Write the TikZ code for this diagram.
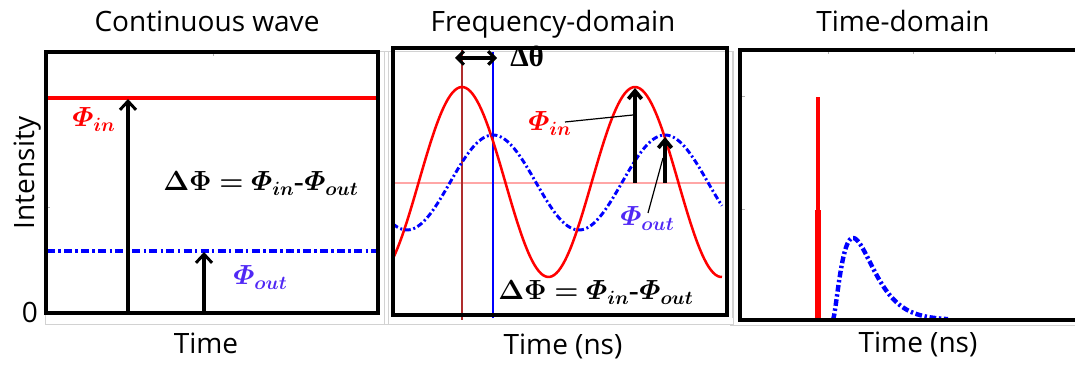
\documentclass[tikz,border=0pt]{standalone}
\usepackage{amsmath,bm}
\usepackage{fontspec}
\newfontfamily\labfont{Open Sans}
\newfontfamily\serifb{Liberation Serif}
\DeclareMathSizes{19.5}{19.5}{15.5}{12}
\usetikzlibrary{arrows.meta}
\definecolor{phiblue}{RGB}{80,40,245}
\definecolor{vred}{RGB}{175,45,45}
\begin{document}
\begin{tikzpicture}[x=0.75pt,y=-0.75pt,
  txt/.style={font=\labfont\fontsize{21}{24}\selectfont, anchor=base, inner sep=0pt},
  mlab/.style={font=\fontsize{19.5}{24}\selectfont, anchor=base west, inner sep=0pt},
  frame/.style={line width=2.6pt, line cap=rect},
  grayline/.style={draw=gray!35, line width=0.75pt},
  tick/.style={draw=gray!60, line width=0.75pt},
  dashdot1/.style={dash pattern=on 6pt off 2.5pt on 1.8pt off 2.5pt},
  arr/.style={line width=2.3pt, -{Straight Barb[length=6.5pt,width=12pt,line width=2.2pt]}},
  arrb/.style={line width=3pt, -{Straight Barb[length=6pt,width=10pt,line width=2.8pt]}},
  lead/.style={line width=0.9pt}]
\useasboundingbox (0,0) rectangle (1075,366);

% ---------------- titles and axis labels ----------------
\node[txt] (t1) at (207,32) {Continuous wave};
\node[txt] (t2) at (553,32) {Frequency-domain};
\node[txt] (t3) at (903,32) {Time-domain};
\node[txt] (x1) at (206,354) {Time};
\node[txt] (x2) at (563,355) {Time (ns)};
\node[txt] (x3) at (918,353) {Time (ns)};
\node[txt, rotate=90] (yl) at (35,173) {Intensity};
\node[txt] (zero) at (30,323) {0};

% ---------------- panel 1 ----------------
\draw[grayline] (45,52) rectangle (388,325);
\draw[tick] (213,52) -- (213,56);
\draw[tick] (46,208) -- (50,208);
\draw[red, line width=2.6pt] (47,98) -- (377,98);
\draw[blue, line width=2.6pt, dashdot1] (47,251) -- (377,251);
\draw[frame] (46,52) rectangle (378,313);
\coordinate (a1s) at (128,313);
\coordinate (a1e) at (128,99);
\coordinate (a2s) at (204,313);
\coordinate (a2e) at (204,252);
\draw[arr] (a1s) -- (a1e);
\draw[arr] (a2s) -- (a2e);
\node[mlab, text=red] (pin1) at (72,127) {$\bm{\varPhi_{in}}$};
\node[mlab, text=phiblue] (pout1) at (233,285) {$\bm{\varPhi_{out}}$};
\node[mlab] (dphi1) at (163,191) {$\bm{\Delta\Phi = \varPhi_{in}}\text{\bfseries -}\bm{\varPhi_{out}}$};

% ---------------- panel 2 ----------------
\draw[grayline] (384,52) rectangle (733,325);
\draw[red!35, line width=0.9pt] (393,183) -- (725,183);
\draw[vred, line width=0.9pt] (462,48) -- (462,320);
\draw[blue, line width=0.9pt] (493,52) -- (493,318);
\begin{scope}
  \clip (393,48) rectangle (723,315);
  \draw[red, line width=1.9pt] plot[domain=393:722, samples=150] (\x, {182 - 95*cos(2.0809*(\x-462))});
  \draw[blue, line width=2.2pt, dash pattern=on 4.5pt off 2pt on 1.5pt off 2pt] plot[domain=393:722, samples=150] (\x, {182.5 - 47.5*cos(2.0930*(\x-493))});
\end{scope}
\draw[frame] (393,48) rectangle (727,315);
\coordinate (dts) at (455,58);
\coordinate (dte) at (497,58);
\draw[line width=2.5pt, {Straight Barb[length=5pt,width=10pt,line width=2.3pt]}-{Straight Barb[length=5pt,width=10pt,line width=2.3pt]}] (dts) -- (dte);
\node[anchor=base west, inner sep=0pt, font=\serifb\bfseries\fontsize{22}{24}\selectfont] (dth) at (510,67) {Δθ};
\coordinate (b1s) at (635,183);
\coordinate (b1e) at (635,88);
\coordinate (b2s) at (665,183);
\coordinate (b2e) at (665,137);
\draw[arrb] (b1s) -- (b1e);
\draw[arrb] (b2s) -- (b2e);
\node[mlab, text=red] (pin2) at (528,131) {$\bm{\varPhi_{in}}$};
\node[mlab, text=phiblue] (pout2) at (620,226) {$\bm{\varPhi_{out}}$};
\coordinate (l1a) at (565,122);
\coordinate (l1b) at (633,115);
\coordinate (l2a) at (648,213);
\coordinate (l2b) at (663,158);
\draw[lead] (l1a) -- (l1b);
\draw[lead] (l2a) -- (l2b);
\node[mlab] (dphi2) at (498,300) {$\bm{\Delta\Phi = \varPhi_{in}}\text{\bfseries -}\bm{\varPhi_{out}}$};

% ---------------- panel 3 ----------------
\draw[grayline] (732,52) -- (732,318);
\draw[grayline] (730,326) -- (1075,326);
\draw[tick] (828,50) -- (828,54);
\draw[tick] (913,50) -- (913,54);
\draw[tick] (995,50) -- (995,54);
\draw[tick] (740,97) -- (745,97);
\draw[tick] (740,210) -- (745,210);
\draw[red, line width=2.6pt] (818,320) -- (818,97);
\draw[red, line width=4.2pt] (818,320) -- (818,210);
\draw[blue, line width=3.3pt, dash pattern=on 5pt off 2pt on 1.8pt off 2pt] plot[domain=0:115, samples=90] ({833+\x}, {320 - 82*(\x/20)*sqrt(\x/20)*exp(1.5*(1-\x/20))});
\draw[frame] (1080,50) -- (740,50) -- (740,320) -- (1080,320);
\end{tikzpicture}
\end{document}
